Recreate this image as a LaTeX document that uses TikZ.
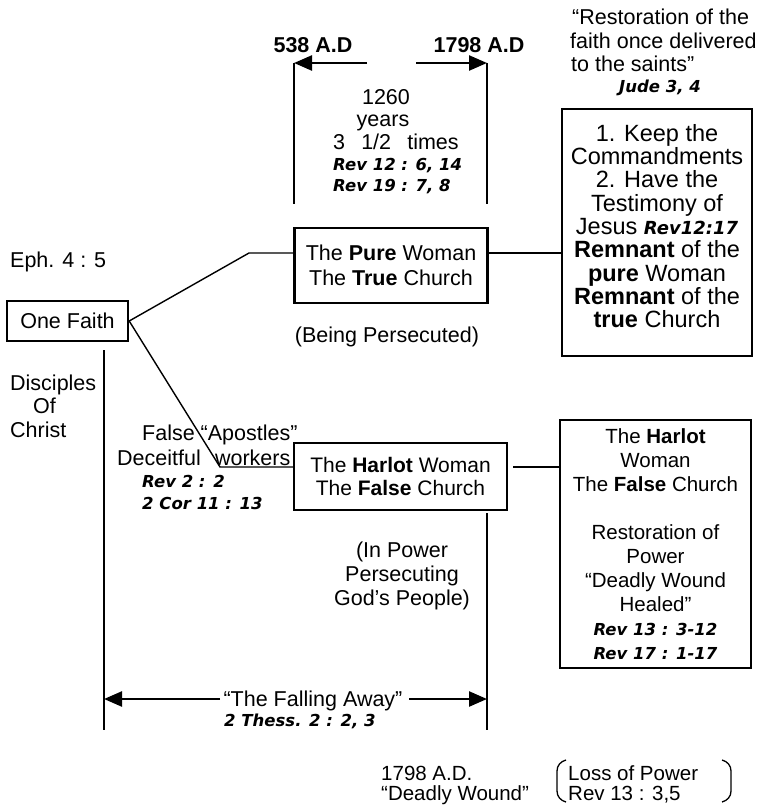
\documentclass[tikz,border=0pt]{standalone}
\usepackage{fontspec}
\setmainfont{Liberation Sans}
\newfontfamily\reffont{DejaVu Sans}
\usetikzlibrary{arrows.meta}
\newcommand\refx[1]{{\reffont\bfseries\itshape #1}}
\begin{document}
\begin{tikzpicture}[x=1pt,y=-1pt,
  box/.style={draw, line width=2.4pt, inner sep=0pt},
  conn/.style={line width=1.4pt},
  vline/.style={line width=1.8pt},
  arr/.style={line width=2.4pt, -{Triangle[length=18pt,width=15pt]}},
  txt/.style={font=\fontsize{21.5}{25}\selectfont, inner sep=0pt, anchor=base},
  ltxt/.style={txt, anchor=base west},
  rtxt/.style={font=\reffont\fontsize{16.5}{20}\selectfont\bfseries\itshape, inner sep=0pt, anchor=base},
  lrtxt/.style={rtxt, anchor=base west},
  btxt/.style={font=\fontsize{20.5}{24}\selectfont, inner sep=0pt, anchor=base west}]
\useasboundingbox[fill=white] (0,0) rectangle (759,805);

% boxes
\node[box, minimum width=121pt, minimum height=40pt, font=\fontsize{21.5}{25}\selectfont] (of) at (67.5,321) {One Faith};
\node[box, minimum width=193pt, minimum height=75pt, align=center, font=\fontsize{21.5}{25}\selectfont] (pure) at (391,265.5) {The \textbf{Pure} Woman\\The \textbf{True} Church};
\node[box, minimum width=213pt, minimum height=67pt, align=center, font=\fontsize{21}{23.5}\selectfont] (harlot) at (400.5,476.5) {The \textbf{Harlot} Woman\\The \textbf{False} Church};
\node[box, minimum width=190pt, minimum height=247pt] (b1) at (657,232.5) {};
\node[inner sep=0pt, align=center, font=\fontsize{23.5}{23.3}\selectfont] (b1t) at (657,226) {1. Keep the\\Commandments\\2. Have the\\Testimony of\\Jesus {\fontsize{18}{23.3}\selectfont\refx{Rev12:17}}\\\textbf{Remnant} of the\\\textbf{pure} Woman\\\textbf{Remnant} of the\\\textbf{true} Church};
\node[box, minimum width=191pt, minimum height=248pt, align=center, font=\fontsize{20.5}{24}\selectfont] (b2) at (655.5,544) {The \textbf{Harlot}\\Woman\\The \textbf{False} Church\\[24pt]Restoration of\\Power\\“Deadly Wound\\Healed”\\{\fontsize{16.5}{23}\selectfont\refx{Rev 13 : 3-12}}\\{\fontsize{16.5}{23}\selectfont\refx{Rev 17 : 1-17}}};

% coordinates
\coordinate (k1) at (249,253);
\coordinate (k2) at (220,467);
\coordinate (k3) at (513,467);
\coordinate (lvT) at (104,350);
\coordinate (lvB) at (104,730);
\coordinate (rvT) at (487,513);
\coordinate (rvB) at (487,730);
\coordinate (tlT) at (294,63);
\coordinate (tlB) at (294,204);
\coordinate (trT) at (487,63);
\coordinate (trB) at (487,204);
\coordinate (a1) at (367,63);
\coordinate (a2) at (416,63);
\coordinate (f1) at (220,699);
\coordinate (f2) at (409,699);

% connectors
\draw[conn] (of.east) -- (k1) -- (k1 -| pure.west);
\draw[conn] (of.east) -- (k2) -- (k2 -| harlot.west);
\draw[conn] (k1 -| pure.east) -- (k1 -| b1.west);
\draw[conn] (k3) -- (k3 -| b2.west);
\draw[vline] (lvT) -- (lvB);
\draw[vline] (rvT) -- (rvB);
\draw[vline] (tlT) -- (tlB);
\draw[vline] (trT) -- (trB);
\draw[arr] (a1) -- (tlT);
\draw[arr] (a2) -- (trT);
\draw[arr] (f1) -- (lvB |- f1);
\draw[arr] (f2) -- (rvB |- f2);

% texts
\node[txt, font=\fontsize{21.5}{25}\selectfont\bfseries] (d538) at (313,52.5) {538 A.D};
\node[txt, font=\fontsize{21.5}{25}\selectfont\bfseries] (d1798) at (479,52.5) {1798 A.D};
\node[txt] (y1260) at (386,105) {1260};
\node[txt] (years) at (383,127) {years};
\node[ltxt] (times) at (333,149.5) {3\hspace{0.75em}1/2\hspace{0.75em}times};
\node[lrtxt] (r12) at (333,171) {Rev 12 : 6, 14};
\node[lrtxt] (r19) at (333,191) {Rev 19 : 7, 8};

\node[ltxt] (rs1) at (572,25) {“Restoration of the};
\node[ltxt] (rs2) at (570,48.5) {faith once delivered};
\node[ltxt] (rs3) at (571,71.5) {to the saints”};
\node[rtxt] (jude) at (660,93) {Jude 3, 4};

\node[ltxt] (eph) at (10,267.5) {Eph. 4 : 5};
\node[ltxt] (disc) at (10,390.5) {Disciples};
\node[ltxt] (dof) at (33,413.5) {Of};
\node[ltxt] (chr) at (10,437.5) {Christ};

\node[txt] (beingp) at (387,342) {(Being Persecuted)};

\node[ltxt] (fa1) at (142,440.5) {False “Apostles”};
\node[ltxt] (fa2) at (117,465) {Deceitful\hspace{0.66em}workers};
\node[lrtxt] (fa3) at (142,487) {Rev 2 : 2};
\node[lrtxt] (fa4) at (142,509) {2 Cor 11 : 13};

\node[inner sep=0pt, align=center, font=\fontsize{21.5}{24}\selectfont] (inpow) at (402,576) {(In Power\\Persecuting\\God’s People)};

\node[txt] (fall) at (313,706.5) {“The Falling Away”};
\node[lrtxt] (thess) at (224,726) {2 Thess. 2 : 2, 3};

\node[btxt] (dw1) at (381,780) {1798 A.D.};
\node[btxt] (dw2) at (381,800) {“Deadly Wound”};
\node[btxt] (lp1) at (568,780) {Loss of Power};
\node[btxt] (lp2) at (568,800) {Rev 13 : 3,5};

% parentheses
\draw[line width=1.3pt] (566,760) to[out=195,in=90] (557,771) -- (557,791) to[out=-90,in=165] (566,802);
\draw[line width=1.3pt] (722,760) to[out=-15,in=90] (731,771) -- (731,791) to[out=-90,in=15] (722,802);
\end{tikzpicture}
\end{document}
